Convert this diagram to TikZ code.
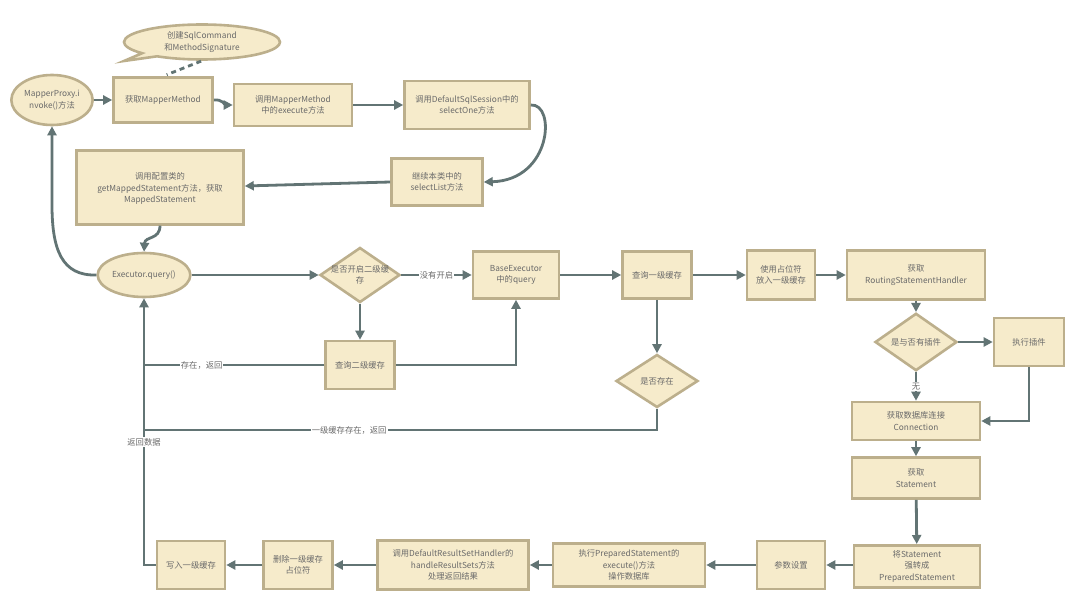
\documentclass[tikz,border=0pt]{standalone}
\usepackage{fontspec}
\setmainfont{Noto Sans CJK SC}
\usetikzlibrary{arrows.meta,shapes.geometric,shapes.callouts}
\definecolor{boxfill}{HTML}{F6EBCB}
\definecolor{boxline}{HTML}{BCAF8C}
\definecolor{arrowc}{HTML}{627474}
\definecolor{txt}{HTML}{6A6A6A}
\begin{document}
\begin{tikzpicture}[x=1pt,y=-1pt,
  box/.style={draw=boxline, fill=boxfill, line width=2.6pt, align=center,
    font=\fontsize{8.3}{11.5}\selectfont, text=txt, inner sep=1pt},
  ell/.style={box, ellipse},
  dia/.style={box, diamond, inner sep=0pt},
  plain/.style={draw=arrowc, line width=2.8pt},
  conn/.style={plain, -{Triangle[length=9pt,width=9pt]}},
  lbl/.style={fill=white, inner sep=1pt, text=txt, font=\fontsize{8.3}{11.5}\selectfont}
]
\useasboundingbox[fill=white] (0,0) rectangle (1080,604);

% top row
\node[ell, minimum width=72pt, minimum height=50pt] (mp) at (52,100) {MapperProxy.i\\nvoke()方法};
\node[box, minimum width=99pt, minimum height=45pt] (n1) at (163,100) {获取MapperMethod};
\node[box, ellipse callout, callout absolute pointer={(124,61)}, minimum width=156pt, minimum height=35pt] (co) at (202,42) {创建SqlCommand\\和MethodSignature};
\node[box, minimum width=118pt, minimum height=42pt] (n2) at (293,105) {调用MapperMethod\\中的execute方法};
\node[box, minimum width=125pt, minimum height=48pt] (n3) at (467,105) {调用DefaultSqlSession中的\\selectOne方法};
\node[box, minimum width=91pt, minimum height=47pt] (n4) at (437,182) {继续本类中的\\selectList方法};
\node[box, minimum width=167pt, minimum height=74pt, anchor=north] (n5) at (160,149) {\\[-2pt]调用配置类的\\getMappedStatement方法，获取\\MappedStatement};

% middle row
\node[ell, minimum width=88pt, minimum height=44pt] (eq) at (144,275) {Executor.query()};
\node[dia, minimum width=80pt, minimum height=55pt] (d1) at (360,275) {\makebox[0pt]{是否开启二级缓}\\\makebox[0pt]{存}};
\node[box, minimum width=86pt, minimum height=47pt] (be) at (516,275) {BaseExecutor\\中的query};
\node[box, minimum width=69pt, minimum height=47pt] (q1) at (657,275) {查询一级缓存};
\node[box, minimum width=69pt, minimum height=48pt] (q2) at (360,365) {查询二级缓存};
\node[dia, minimum width=82pt, minimum height=53pt] (d2) at (657,381) {是否存在};
\node[box, minimum width=68pt, minimum height=49pt] (pl) at (781,275) {使用占位符\\放入一级缓存};
\node[box, minimum width=138pt, minimum height=49pt] (rt) at (916,275) {获取\\RoutingStatementHandler};
\node[dia, minimum width=82pt, minimum height=53pt] (d3) at (916,342) {是与否有插件};
\node[box, minimum width=70pt, minimum height=48pt] (pg) at (1029,342) {执行插件};
\node[box, minimum width=128pt, minimum height=38pt] (cn) at (916,421) {获取数据库连接\\Connection};
\node[box, minimum width=128pt, minimum height=41pt] (st) at (916,478) {获取\\Statement};

% bottom row
\node[box, minimum width=126pt, minimum height=42pt, anchor=north, inner sep=2pt] (ps) at (917,544) {将Statement\\强转成\\PreparedStatement};
\node[box, minimum width=68pt, minimum height=48pt] (pa) at (791,565) {参数设置};
\node[box, minimum width=152pt, minimum height=43pt] (ex) at (629,565) {执行PreparedStatement的\\execute()方法\\操作数据库};
\node[box, minimum width=151pt, minimum height=49pt] (rh) at (453,565) {调用DefaultResultSetHandler的\\handleResultSets方法\\处理返回结果};
\node[box, minimum width=69pt, minimum height=48pt] (dl) at (298,565) {删除一级缓存\\占位符};
\node[box, minimum width=68pt, minimum height=48pt] (wr) at (191,565) {写入一级缓存};

\coordinate (j1) at (144,365);
\coordinate (j2) at (144,430);

% connectors
\draw[plain, dash pattern=on 5pt off 4pt, shorten <=1pt, shorten >=4pt] (co.south) -- (n1.north);
\draw[conn] (mp) -- (n1);
\draw[conn] (n1.east) .. controls (222,99) and (226,105) .. (n2.west);
\draw[conn] (n2) -- (n3);
\draw[conn] (n3.east) .. controls (556,103) and (552,180) .. (n4.east);
\draw[conn] (n4.west) -- (n5.east |- 0,186);
\draw[conn] (n5.south) .. controls (160,240) and (145,236) .. (eq.north);
\draw[conn] (eq.west) .. controls (62,276) and (52,250) .. (52,205) -- (mp.south);
\draw[conn] (eq) -- (d1);
\draw[conn] (d1) -- node[lbl]{没有开启} (be);
\draw[conn] (d1) -- (q2);
\draw[conn] (q2.east) -| (be.south);
\draw[plain] (q2.west) -- node[lbl, pos=0.68]{存在，返回} (j1);
\draw[conn] (be) -- (q1);
\draw[conn] (q1) -- (d2);
\draw[plain] (d2.south) |- node[lbl, pos=0.8]{一级缓存存在，返回} (j2);
\draw[conn] (q1) -- (pl);
\draw[conn] (pl) -- (rt);
\draw[conn] (rt) -- (d3);
\draw[conn] (d3) -- (pg);
\draw[conn] (d3) -- node[lbl]{无} (cn);
\draw[conn] (pg.south) |- (cn.east);
\draw[conn] (cn) -- (st);
\draw[conn] (st) -- (ps);
\draw[conn] (ps.west |- pa) -- (pa);
\draw[conn] (pa) -- (ex);
\draw[conn] (ex) -- (rh);
\draw[conn] (rh) -- (dl);
\draw[conn] (dl) -- (wr);
\draw[conn] (wr.west) -| node[lbl, pos=0.73]{返回数据} (eq.south);
\end{tikzpicture}
\end{document}
